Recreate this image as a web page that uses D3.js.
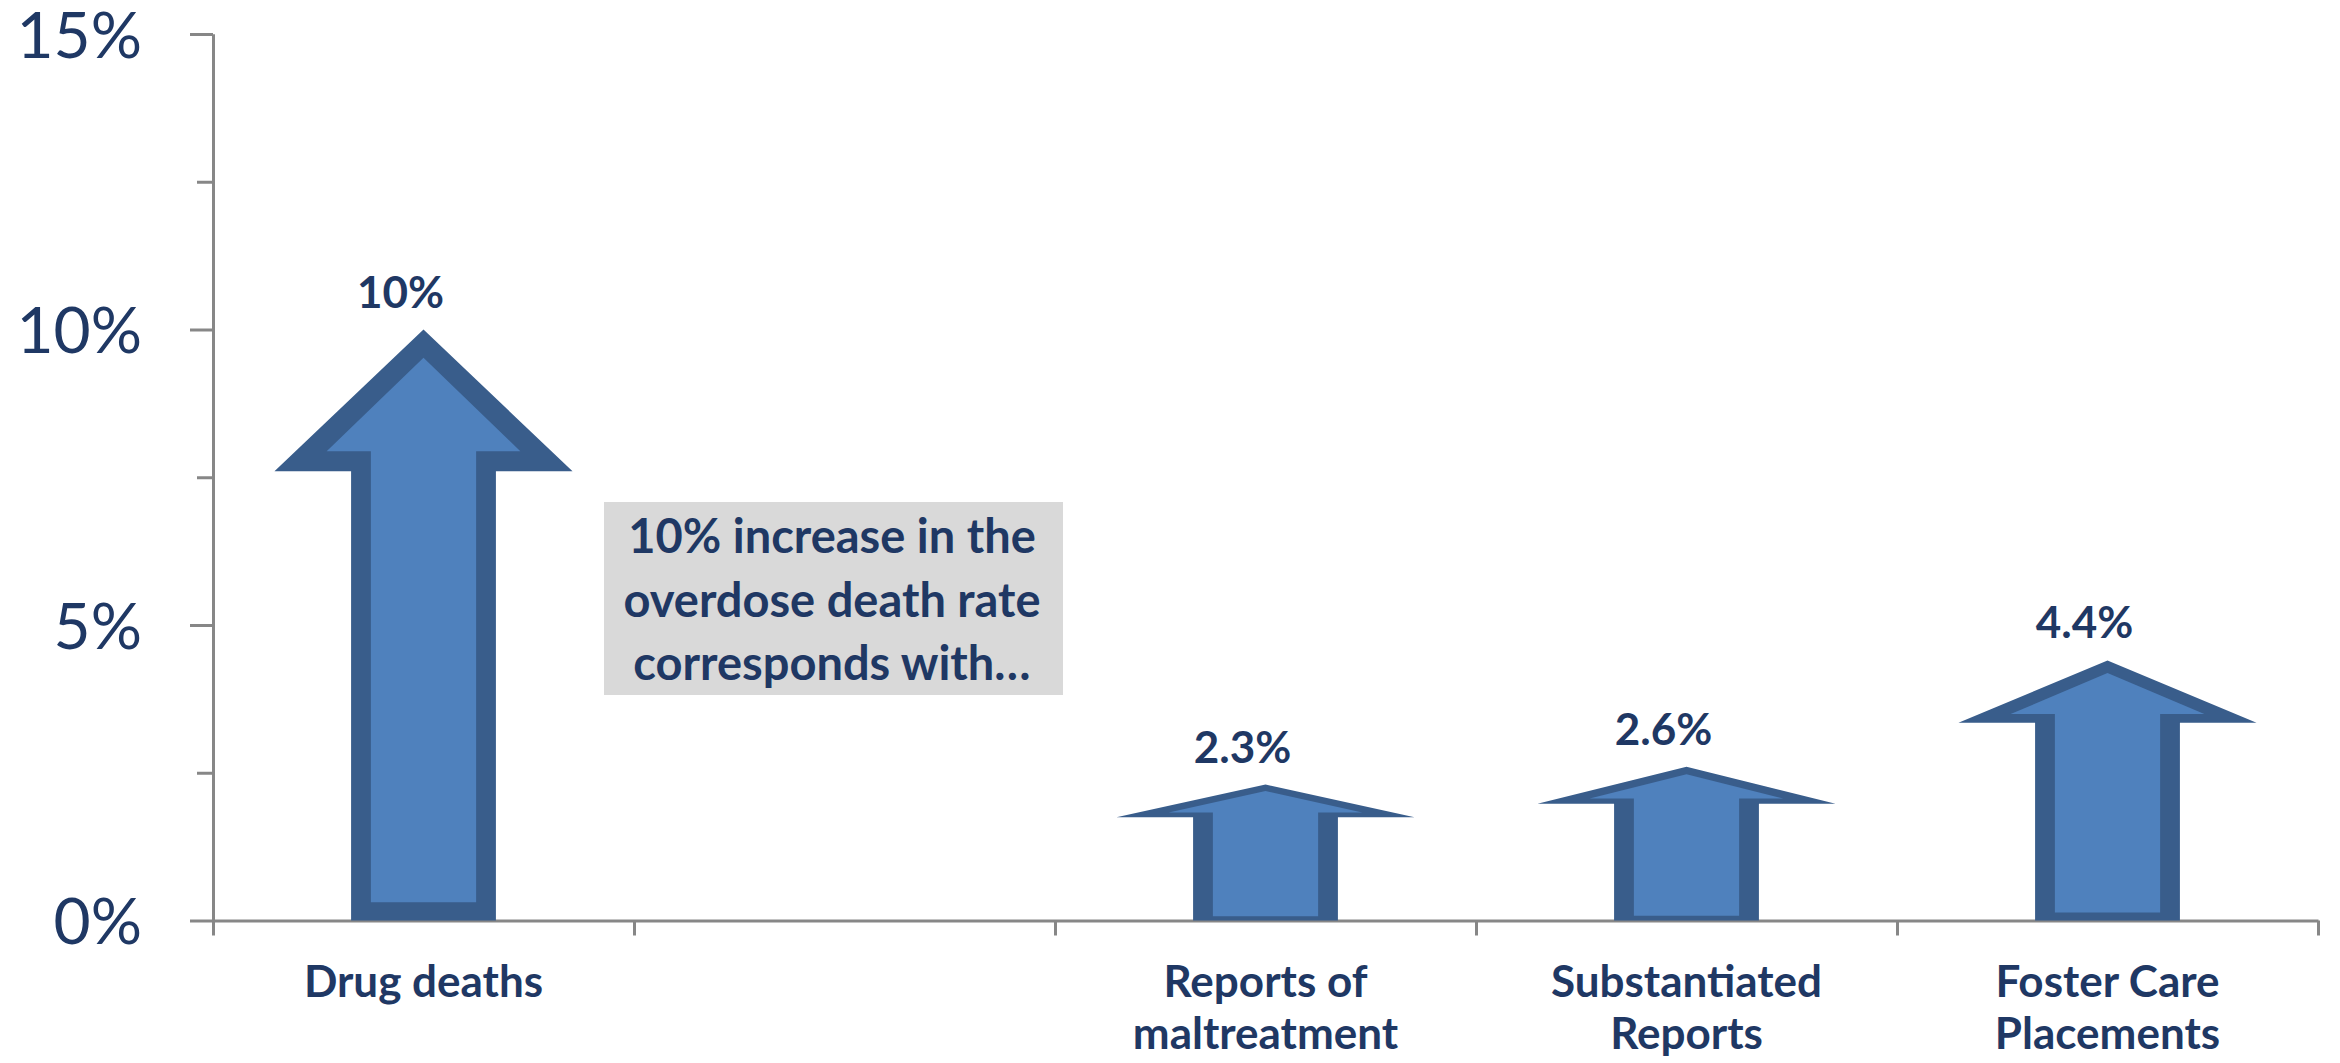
<!DOCTYPE html>
<html>
<head>
<meta charset="utf-8">
<script src="https://cdn.jsdelivr.net/npm/d3@7"></script>
<style>
  body { margin: 0; background: #fff; }
  .axis path, .axis line { stroke: #878787; stroke-width: 3; }
  text { font-family: Lato, 'Noto Sans', sans-serif; fill: #1f3864; }
</style>
</head>
<body>
<div id="chart"></div>
<script>
// chart data
var categories = ['Drug deaths', '', 'Reports of maltreatment', 'Substantiated Reports', 'Foster Care Placements'];
var categoryLines = [['Drug deaths'], [], ['Reports of', 'maltreatment'], ['Substantiated', 'Reports'], ['Foster Care', 'Placements']];
var values = [10, null, 2.3, 2.6, 4.4];
var valueLabels = ['10%', '', '2.3%', '2.6%', '4.4%'];
var yTicks = [0, 5, 10, 15];
var yMinorTicks = [2.5, 7.5, 12.5];
var note = ['10% increase in the', 'overdose death rate', 'corresponds with\u2026'];

var W = 2340, H = 1063;
var margin = {top: 34, right: 22, bottom: 142.5, left: 213};
var width = W - margin.left - margin.right;
var height = H - margin.top - margin.bottom;

var x = d3.scaleBand().domain(categories.map(function(d, i) { return i; })).range([0, width]).padding(0);
var xEdges = d3.scaleLinear().domain([0, categories.length]).range([0, width]);
var y = d3.scaleLinear().domain([0, 15]).range([height, 0]);

var svg = d3.select('#chart').append('svg')
  .attr('width', W)
  .attr('height', H)
  .append('g')
  .attr('transform', 'translate(' + margin.left + ',' + margin.top + ')');

// arrow shape, as fractions of band width (dx) and of bar value (f)
var outerShape = [[-0.172, 0], [-0.172, 0.76], [-0.354, 0.76], [0, 1], [0.354, 0.76], [0.172, 0.76], [0.172, 0]];
var innerShape = [[-0.125, 0.031], [-0.125, 0.794], [-0.230, 0.794], [0, 0.952], [0.230, 0.794], [0.125, 0.794], [0.125, 0.031]];

function arrowPoints(shape, i, v) {
  var cx = x(i) + x.bandwidth() / 2;
  return shape.map(function(p) {
    return [cx + p[0] * x.bandwidth(), y(v * p[1])].join(',');
  }).join(' ');
}

var data = values.map(function(v, i) { return {i: i, v: v, label: valueLabels[i]}; })
  .filter(function(d) { return d.v != null; });

// axes
var yAxis = d3.axisLeft(y).tickValues(yTicks).tickSize(23).tickSizeOuter(0)
  .tickFormat(function(d) { return d + '%'; });
var yMinor = d3.axisLeft(y).tickValues(yMinorTicks).tickSize(16).tickSizeOuter(0).tickFormat('');
var xAxis = d3.axisBottom(xEdges).ticks(categories.length).tickSize(15).tickSizeOuter(0).tickFormat('');

svg.append('g').attr('class', 'y axis minor').call(yMinor);
var gy = svg.append('g').attr('class', 'y axis').call(yAxis);
gy.selectAll('text')
  .attr('x', -71)
  .attr('dy', '0.36em')
  .style('font-size', '64px')
  .style('font-family', 'Lato, sans-serif')
  .style('fill', '#1f3864');

svg.append('g')
  .attr('class', 'x axis')
  .attr('transform', 'translate(0,' + height + ')')
  .call(xAxis);

// arrows
var arrows = svg.append('g').attr('class', 'arrows')
  .selectAll('g').data(data).enter().append('g');

arrows.append('polygon')
  .attr('points', function(d) { return arrowPoints(outerShape, d.i, d.v); })
  .attr('fill', '#395d8b');

arrows.append('polygon')
  .attr('points', function(d) { return arrowPoints(innerShape, d.i, d.v); })
  .attr('fill', '#4f81bd');

arrows.append('text')
  .attr('x', function(d) { return x(d.i) + x.bandwidth() / 2 - 23; })
  .attr('y', function(d) { return y(d.v) - 22; })
  .attr('text-anchor', 'middle')
  .style('font-size', '44px')
  .style('font-weight', 'bold')
  .text(function(d) { return d.label; });

// category labels
var cats = svg.append('g').attr('class', 'categories')
  .selectAll('text').data(categoryLines).enter().append('text')
  .attr('x', function(d, i) { return x(i) + x.bandwidth() / 2; })
  .attr('y', height + 76)
  .attr('text-anchor', 'middle')
  .style('font-size', '44px')
  .style('font-weight', 'bold');

cats.selectAll('tspan').data(function(d) { return d; }).enter().append('tspan')
  .attr('x', function() { return d3.select(this.parentNode).attr('x'); })
  .attr('dy', function(d, j) { return j === 0 ? 0 : 52; })
  .text(function(d) { return d; });

// annotation box
var noteG = svg.append('g').attr('transform', 'translate(' + (604 - margin.left) + ',' + (502 - margin.top) + ')');
noteG.append('rect')
  .attr('width', 459)
  .attr('height', 193)
  .attr('fill', '#d9d9d9');
noteG.selectAll('text').data(note).enter().append('text')
  .attr('x', 228)
  .attr('y', function(d, i) { return 51 + i * 63.5; })
  .attr('text-anchor', 'middle')
  .style('font-size', '47px')
  .style('font-weight', 'bold')
  .text(function(d) { return d; });
</script>
</body>
</html>
